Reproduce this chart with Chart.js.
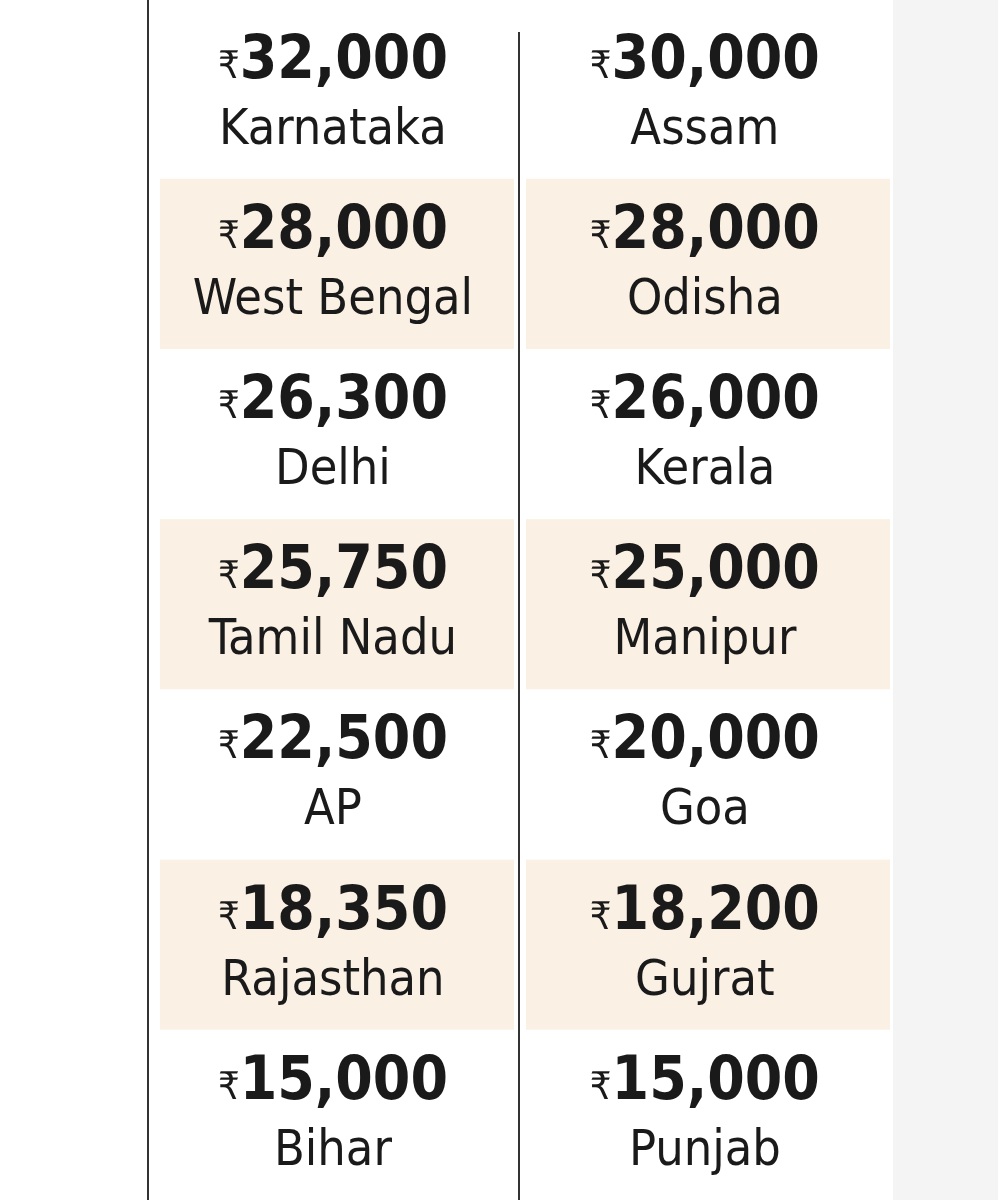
<!DOCTYPE html>
<html>
<head>
<meta charset="utf-8">
<style>
  html, body { margin: 0; padding: 0; background: #fff; }
  #wrap { width: 998px; height: 1200px; }
</style>
<script src="https://cdn.jsdelivr.net/npm/chart.js@4"></script>
</head>
<body>
<div id="wrap"><canvas id="table"></canvas></div>
<script>
// left column, right column (top to bottom)
const leftStates = ['Karnataka', 'West Bengal', 'Delhi', 'Tamil Nadu', 'AP', 'Rajasthan', 'Bihar'];
const leftValues = [32000, 28000, 26300, 25750, 22500, 18350, 15000];
const rightStates = ['Assam', 'Odisha', 'Kerala', 'Manipur', 'Goa', 'Gujrat', 'Punjab'];
const rightValues = [30000, 28000, 26000, 25000, 20000, 18200, 15000];

const boldFont = '"Liberation Sans Narrow", "DejaVu Sans Condensed", sans-serif';

function cells(col, states, values) {
  return states.map((s, i) => ({ x: col, y: i, state: s, value: values[i] }));
}

const tablePlugin = {
  id: 'tableCells',
  beforeDatasetsDraw(chart) {
    const { ctx, scales: { x, y } } = chart;
    ctx.save();
    // right grey margin
    ctx.fillStyle = '#f4f4f4';
    ctx.fillRect(893, 0, 105, 1200);
    // shaded rows
    const half = (y.getPixelForValue(1) - y.getPixelForValue(0)) / 2;
    ctx.fillStyle = '#fbf0e4';
    for (let i = 1; i < leftStates.length; i += 2) {
      const top = y.getPixelForValue(i) - half;
      ctx.fillRect(160, top, 354, half * 2);
      ctx.fillRect(526, top, 364, half * 2);
    }
    // rules
    ctx.strokeStyle = '#333';
    ctx.lineWidth = 2;
    ctx.beginPath();
    ctx.moveTo(148, 0); ctx.lineTo(148, 1200);
    ctx.moveTo(519, 32); ctx.lineTo(519, 1200);
    ctx.stroke();
    ctx.restore();
  },
  afterDatasetsDraw(chart) {
    const { ctx } = chart;
    ctx.save();
    ctx.fillStyle = '#1a1a1a';
    ctx.textBaseline = 'alphabetic';
    chart.data.datasets.forEach((ds, di) => {
      const meta = chart.getDatasetMeta(di);
      meta.data.forEach((pt, i) => {
        const d = ds.data[i];
        const cx = pt.x, cy = pt.y;
        const num = d.value.toLocaleString('en-US');
        ctx.font = 'bold 60px ' + boldFont;
        const nw = ctx.measureText(num).width;
        ctx.font = '38px "DejaVu Sans Condensed", sans-serif';
        const rw = ctx.measureText('₹').width;
        const start = cx - (nw + rw) / 2;
        ctx.textAlign = 'left';
        ctx.fillText('₹', start, cy - 16);
        ctx.font = 'bold 60px ' + boldFont;
        ctx.fillText(num, start + rw, cy - 16);
        ctx.textAlign = 'center';
        ctx.font = '50px ' + boldFont;
        ctx.fillText(d.state, cx, cy + 50);
      });
    });
    ctx.restore();
  }
};

new Chart(document.getElementById('table'), {
  type: 'scatter',
  data: {
    datasets: [
      { data: cells(0, leftStates, leftValues), pointRadius: 0 },
      { data: cells(1, rightStates, rightValues), pointRadius: 0 }
    ]
  },
  options: {
    responsive: true,
    maintainAspectRatio: false,
    animation: false,
    layout: { padding: 0 },
    plugins: { legend: { display: false }, tooltip: { enabled: false } },
    scales: {
      x: { display: false, min: -0.895, max: 1.788 },
      y: { display: false, min: -0.55, max: 6.5, reverse: true }
    }
  },
  plugins: [tablePlugin]
});
</script>
</body>
</html>
